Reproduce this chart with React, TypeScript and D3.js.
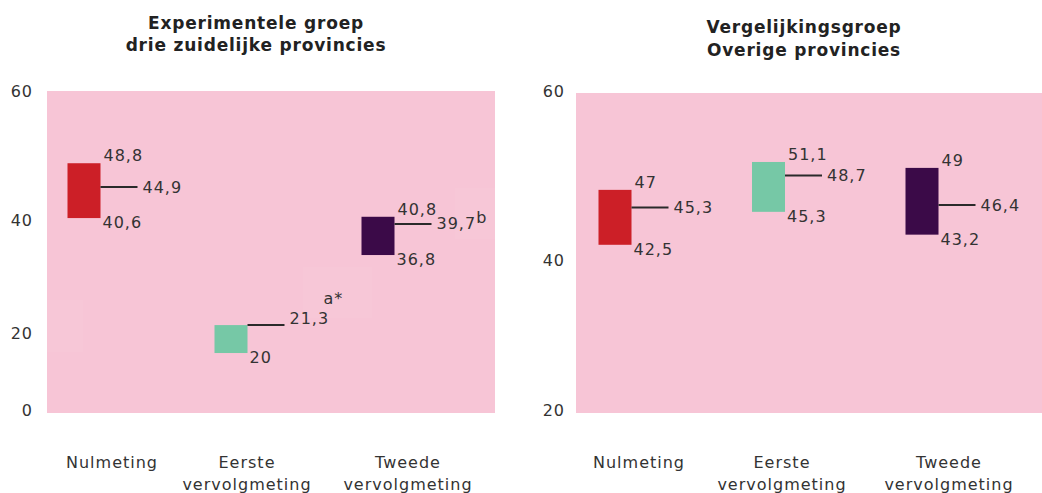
import React from "react";
import * as d3 from "d3";

const categories = ["Nulmeting", "Eerste vervolgmeting", "Tweede vervolgmeting"];
const xLabelLines = [["Nulmeting"], ["Eerste", "vervolgmeting"], ["Tweede", "vervolgmeting"]];
const barColors = ["#cc1f27", "#76c8a6", "#3b0a48"];

// Experimentele groep
const expTicks = [0, 20, 40, 60];
const expHigh = [48.8, 21.4, 40.5];
const expLow = [40.3, 14.8, 33.8];
const expMean = [45.1, 21.4, 39.3];
const expHighLabel = ["48,8", "", "40,8"];
const expMeanLabel = ["44,9", "21,3", "39,7"];
const expLowLabel = ["40,6", "20", "36,8"];
const expMeanSup = ["", "", "b"];
const expNote = ["", "a*", ""];

// Vergelijkingsgroep
const cmpTicks = [20, 40, 60];
const cmpHigh = [48.3, 51.6, 50.9];
const cmpLow = [41.8, 45.7, 43.0];
const cmpMean = [46.2, 50.0, 46.5];
const cmpHighLabel = ["47", "51,1", "49"];
const cmpMeanLabel = ["45,3", "48,7", "46,4"];
const cmpLowLabel = ["42,5", "45,3", "43,2"];
const cmpMeanSup = ["", "", ""];
const cmpNote = ["", "", ""];

const FONT = "'DejaVu Sans', Verdana, sans-serif";
const TXT = "#333333";
const PINK = "#f7c5d6";

type PanelProps = {
  title: string[];
  titleX: number;
  titleY: number[];
  ticks: number[];
  yRange: number[];
  plot: { x0: number; x1: number; y0: number; y1: number };
  tickX: number;
  barRange: [number, number];
  labelCenters: number[];
  high: number[];
  low: number[];
  mean: number[];
  highLabel: string[];
  meanLabel: string[];
  lowLabel: string[];
  meanSup: string[];
  note: string[];
  ghosts: number[][];
};

function Panel(p: PanelProps) {
  const y = d3.scaleLinear().domain(p.ticks).range(p.yRange);
  const xb = d3.scalePoint<string>().domain(categories).range(p.barRange);
  const xl = d3.scaleOrdinal<string, number>().domain(categories).range(p.labelCenters);
  const bw = 33;
  const lineLen = 37;
  return (
    <g>
      {p.title.map((t, i) => (
        <text key={i} x={p.titleX} y={p.titleY[i]} textAnchor="middle" dominantBaseline="central"
          fontFamily={FONT} fontWeight="bold" fontSize={17} fill="#222" letterSpacing={0.8}>{t}</text>
      ))}
      <rect x={p.plot.x0} y={p.plot.y0} width={p.plot.x1 - p.plot.x0} height={p.plot.y1 - p.plot.y0} fill={PINK} />
      {p.ghosts.map((g, i) => (
        <rect key={i} x={g[0]} y={g[1]} width={g[2] - g[0]} height={g[3] - g[1]} fill="#ffffff" opacity={0.045} />
      ))}
      {p.ticks.map((t) => (
        <text key={t} x={p.tickX} y={y(t)} textAnchor="end" dominantBaseline="central"
          fontFamily={FONT} fontSize={16} fill={TXT} letterSpacing={1}>{t}</text>
      ))}
      {categories.map((c, i) => {
        const cx = xb(c)!;
        const right = cx + bw / 2;
        const ym = y(p.mean[i]);
        const lineEnd = right + lineLen;
        const meanDy = p.highLabel[i] === "" ? -7 : 0;
        return (
          <g key={c}>
            <rect x={cx - bw / 2} y={y(p.high[i])} width={bw} height={y(p.low[i]) - y(p.high[i])} fill={barColors[i]} />
            <line x1={right} x2={lineEnd} y1={ym} y2={ym} stroke="#2a2a2a" strokeWidth={2} />
            {p.highLabel[i] && (
              <text x={right + 3} y={y(p.high[i]) - 2} fontFamily={FONT} fontSize={16} fill={TXT} letterSpacing={1}>{p.highLabel[i]}</text>
            )}
            <text x={lineEnd + 5} y={ym + meanDy} dominantBaseline="central" fontFamily={FONT} fontSize={16} fill={TXT} letterSpacing={1}>
              {p.meanLabel[i]}
              {p.meanSup[i] && <tspan dy={-7} fontSize={16}>{p.meanSup[i]}</tspan>}
            </text>
            <text x={right + 2} y={y(p.low[i]) - 2} dominantBaseline="hanging" fontFamily={FONT} fontSize={16} fill={TXT} letterSpacing={1}>{p.lowLabel[i]}</text>
            {p.note[i] && (
              <text x={lineEnd + 39} y={ym - 27} dominantBaseline="central" fontFamily={FONT} fontSize={16} fill={TXT} letterSpacing={1}>{p.note[i]}</text>
            )}
            {xLabelLines[i].map((l, j) => (
              <text key={j} x={xl(c)} y={462 + j * 22} textAnchor="middle" dominantBaseline="central"
                fontFamily={FONT} fontSize={16} fill={TXT} letterSpacing={1}>{l}</text>
            ))}
          </g>
        );
      })}
    </g>
  );
}

export default function App() {
  return (
    <svg width={1042} height={493} style={{ position: "absolute", left: 0, top: 0, display: "block", background: "#fff" }}>
      <Panel
        title={["Experimentele groep", "drie zuidelijke provincies"]}
        titleX={256}
        titleY={[23, 45]}
        ticks={expTicks}
        yRange={[410, 333, 220, 91]}
        plot={{ x0: 47, x1: 495, y0: 91, y1: 413 }}
        tickX={33}
        barRange={[84, 378]}
        labelCenters={[112, 247, 408]}
        high={expHigh}
        low={expLow}
        mean={expMean}
        highLabel={expHighLabel}
        meanLabel={expMeanLabel}
        lowLabel={expLowLabel}
        meanSup={expMeanSup}
        note={expNote}
        ghosts={[[46, 300, 83, 352], [303, 267, 372, 318], [455, 188, 495, 239]]}
      />
      <Panel
        title={["Vergelijkingsgroep", "Overige provincies"]}
        titleX={804}
        titleY={[27, 50]}
        ticks={cmpTicks}
        yRange={[410, 260, 91]}
        plot={{ x0: 576, x1: 1042, y0: 93, y1: 413 }}
        tickX={565}
        barRange={[615, 922]}
        labelCenters={[639, 782, 949]}
        high={cmpHigh}
        low={cmpLow}
        mean={cmpMean}
        highLabel={cmpHighLabel}
        meanLabel={cmpMeanLabel}
        lowLabel={cmpLowLabel}
        meanSup={cmpMeanSup}
        note={cmpNote}
        ghosts={[]}
      />
    </svg>
  );
}
